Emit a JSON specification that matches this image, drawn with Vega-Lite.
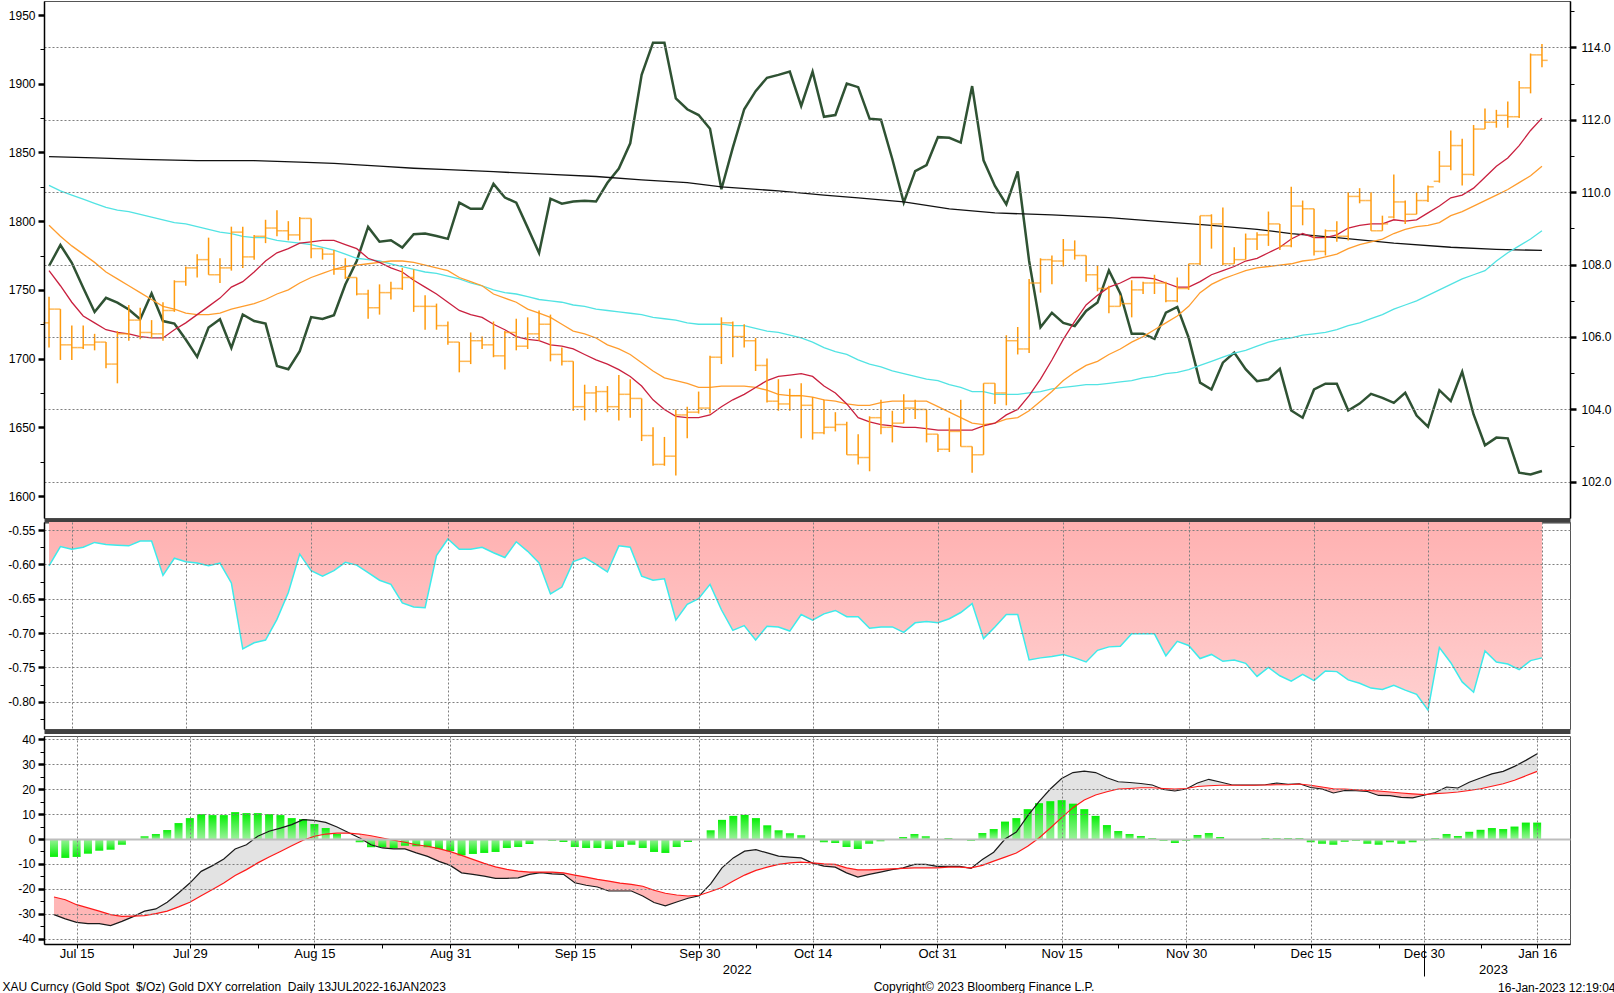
{
  "$schema": "https://vega.github.io/schema/vega-lite/v6.json",
  "padding": 0,
  "background": "white",
  "datasets": {
    "main": [
      {"i":0,"o":1726,"h":1745,"l":1708,"c":1736,"dxy":107.96,"m10":1764,"m20":1797,"m50":1826,"corr":-0.602,"macd":-30.4,"sig":-23.3,"hist":-7.2,"dir":"dn","seg":1},
      {"i":1,"o":1736,"h":1736,"l":1699,"c":1710,"dxy":108.54,"m10":1753,"m20":1789,"m50":1822,"corr":-0.574,"macd":-32.1,"sig":-24.4,"hist":-7.6,"dir":"dn","seg":1},
      {"i":2,"o":1710,"h":1724,"l":1699,"c":1708,"dxy":108.05,"m10":1741,"m20":1782,"m50":1819,"corr":-0.578,"macd":-33.5,"sig":-26.4,"hist":-7.2,"dir":"dn","seg":1},
      {"i":3,"o":1708,"h":1724,"l":1707,"c":1710,"dxy":107.36,"m10":1731,"m20":1776,"m50":1816,"corr":-0.575,"macd":-34.0,"sig":-27.7,"hist":-5.9,"dir":"dn","seg":1},
      {"i":4,"o":1710,"h":1718,"l":1706,"c":1712,"dxy":106.69,"m10":1726,"m20":1770,"m50":1813,"corr":-0.568,"macd":-34.0,"sig":-29.0,"hist":-4.7,"dir":"dn","seg":1},
      {"i":5,"o":1712,"h":1712,"l":1693,"c":1696,"dxy":107.08,"m10":1721,"m20":1763,"m50":1810,"corr":-0.571,"macd":-34.8,"sig":-30.4,"hist":-4.3,"dir":"dn","seg":1},
      {"i":6,"o":1696,"h":1720,"l":1682,"c":1718,"dxy":106.95,"m10":1719,"m20":1758,"m50":1808,"corr":-0.572,"macd":-33.1,"sig":-31.1,"hist":-2.3,"dir":"dn","seg":1},
      {"i":7,"o":1718,"h":1739,"l":1713,"c":1728,"dxy":106.76,"m10":1718,"m20":1753,"m50":1807,"corr":-0.573,"macd":-31.2,"sig":-31.0,"hist":-0.3,"dir":"dn","seg":1},
      {"i":8,"o":1728,"h":1737,"l":1714,"c":1719,"dxy":106.49,"m10":1716,"m20":1748,"m50":1805,"corr":-0.566,"macd":-29.0,"sig":-30.8,"hist":1.1,"dir":"up","seg":2},
      {"i":9,"o":1719,"h":1728,"l":1715,"c":1718,"dxy":107.20,"m10":1715,"m20":1743,"m50":1803,"corr":-0.566,"macd":-28.1,"sig":-30.0,"hist":2.0,"dir":"up","seg":2},
      {"i":10,"o":1718,"h":1741,"l":1713,"c":1735,"dxy":106.44,"m10":1715,"m20":1738,"m50":1801,"corr":-0.616,"macd":-25.4,"sig":-29.0,"hist":3.6,"dir":"up","seg":2},
      {"i":11,"o":1735,"h":1757,"l":1734,"c":1756,"dxy":106.37,"m10":1721,"m20":1736,"m50":1799,"corr":-0.591,"macd":-21.7,"sig":-27.3,"hist":6.4,"dir":"up","seg":2},
      {"i":12,"o":1756,"h":1767,"l":1753,"c":1766,"dxy":105.93,"m10":1726,"m20":1733,"m50":1798,"corr":-0.596,"macd":-17.7,"sig":-25.4,"hist":8.4,"dir":"up","seg":2},
      {"i":13,"o":1766,"h":1776,"l":1759,"c":1772,"dxy":105.45,"m10":1732,"m20":1732,"m50":1796,"corr":-0.598,"macd":-13.0,"sig":-22.8,"hist":10.0,"dir":"up","seg":2},
      {"i":14,"o":1772,"h":1788,"l":1761,"c":1761,"dxy":106.26,"m10":1738,"m20":1732,"m50":1794,"corr":-0.602,"macd":-10.7,"sig":-20.3,"hist":9.6,"dir":"up","seg":2},
      {"i":15,"o":1761,"h":1773,"l":1755,"c":1766,"dxy":106.49,"m10":1744,"m20":1733,"m50":1792,"corr":-0.598,"macd":-8.0,"sig":-17.7,"hist":9.6,"dir":"up","seg":2},
      {"i":16,"o":1766,"h":1796,"l":1764,"c":1792,"dxy":105.70,"m10":1752,"m20":1736,"m50":1791,"corr":-0.627,"macd":-4.0,"sig":-14.7,"hist":10.8,"dir":"up","seg":2},
      {"i":17,"o":1792,"h":1796,"l":1766,"c":1774,"dxy":106.62,"m10":1756,"m20":1738,"m50":1789,"corr":-0.723,"macd":-2.3,"sig":-12.3,"hist":10.4,"dir":"up","seg":2},
      {"i":18,"o":1774,"h":1790,"l":1772,"c":1789,"dxy":106.44,"m10":1763,"m20":1740,"m50":1788,"corr":-0.714,"macd":1.1,"sig":-9.6,"hist":10.4,"dir":"up","seg":2},
      {"i":19,"o":1789,"h":1801,"l":1784,"c":1795,"dxy":106.37,"m10":1771,"m20":1743,"m50":1788,"corr":-0.710,"macd":3.1,"sig":-7.2,"hist":10.0,"dir":"up","seg":2},
      {"i":20,"o":1795,"h":1808,"l":1789,"c":1793,"dxy":105.20,"m10":1777,"m20":1747,"m50":1786,"corr":-0.680,"macd":4.4,"sig":-5.0,"hist":9.6,"dir":"up","seg":2},
      {"i":21,"o":1793,"h":1800,"l":1786,"c":1790,"dxy":105.11,"m10":1780,"m20":1750,"m50":1785,"corr":-0.641,"macd":5.8,"sig":-2.7,"hist":8.4,"dir":"up","seg":2},
      {"i":22,"o":1790,"h":1803,"l":1786,"c":1802,"dxy":105.61,"m10":1784,"m20":1755,"m50":1784,"corr":-0.585,"macd":7.8,"sig":-0.5,"hist":8.0,"dir":"up","seg":2},
      {"i":23,"o":1802,"h":1802,"l":1773,"c":1780,"dxy":106.55,"m10":1785,"m20":1759,"m50":1783,"corr":-0.609,"macd":7.5,"sig":1.1,"hist":6.0,"dir":"up","seg":2},
      {"i":24,"o":1780,"h":1780,"l":1772,"c":1776,"dxy":106.50,"m10":1786,"m20":1762,"m50":1781,"corr":-0.617,"macd":6.7,"sig":2.0,"hist":4.4,"dir":"up","seg":2},
      {"i":25,"o":1776,"h":1779,"l":1761,"c":1765,"dxy":106.60,"m10":1786,"m20":1765,"m50":1779,"corr":-0.609,"macd":4.8,"sig":2.4,"hist":2.0,"dir":"up","seg":2},
      {"i":26,"o":1765,"h":1773,"l":1758,"c":1759,"dxy":107.45,"m10":1783,"m20":1767,"m50":1776,"corr":-0.597,"macd":2.6,"sig":2.4,"hist":0,"dir":"up","seg":2},
      {"i":27,"o":1759,"h":1759,"l":1746,"c":1747,"dxy":108.10,"m10":1780,"m20":1768,"m50":1773,"corr":-0.601,"macd":0.4,"sig":2.0,"hist":-1.3,"dir":"dn","seg":3},
      {"i":28,"o":1747,"h":1750,"l":1729,"c":1737,"dxy":109.04,"m10":1773,"m20":1769,"m50":1772,"corr":-0.612,"macd":-2.3,"sig":1.3,"hist":-3.3,"dir":"dn","seg":3},
      {"i":29,"o":1737,"h":1754,"l":1732,"c":1748,"dxy":108.63,"m10":1770,"m20":1770,"m50":1771,"corr":-0.623,"macd":-3.6,"sig":0.4,"hist":-3.3,"dir":"dn","seg":3},
      {"i":30,"o":1748,"h":1756,"l":1743,"c":1751,"dxy":108.67,"m10":1766,"m20":1771,"m50":1769,"corr":-0.629,"macd":-4.0,"sig":-0.5,"hist":-3.6,"dir":"dn","seg":3},
      {"i":31,"o":1751,"h":1766,"l":1750,"c":1759,"dxy":108.47,"m10":1763,"m20":1771,"m50":1767,"corr":-0.656,"macd":-4.0,"sig":-1.3,"hist":-2.7,"dir":"dn","seg":3},
      {"i":32,"o":1759,"h":1765,"l":1734,"c":1738,"dxy":108.84,"m10":1757,"m20":1770,"m50":1765,"corr":-0.662,"macd":-5.6,"sig":-2.3,"hist":-2.9,"dir":"dn","seg":3},
      {"i":33,"o":1738,"h":1746,"l":1721,"c":1738,"dxy":108.86,"m10":1752,"m20":1768,"m50":1763,"corr":-0.663,"macd":-7.0,"sig":-2.9,"hist":-3.3,"dir":"dn","seg":3},
      {"i":34,"o":1738,"h":1740,"l":1721,"c":1724,"dxy":108.79,"m10":1747,"m20":1766,"m50":1762,"corr":-0.587,"macd":-9.0,"sig":-3.9,"hist":-4.0,"dir":"dn","seg":3},
      {"i":35,"o":1724,"h":1727,"l":1710,"c":1712,"dxy":108.71,"m10":1741,"m20":1764,"m50":1760,"corr":-0.563,"macd":-10.6,"sig":-5.1,"hist":-4.9,"dir":"dn","seg":3},
      {"i":36,"o":1712,"h":1712,"l":1690,"c":1698,"dxy":109.71,"m10":1735,"m20":1759,"m50":1758,"corr":-0.578,"macd":-13.6,"sig":-6.6,"hist":-6.6,"dir":"dn","seg":3},
      {"i":37,"o":1698,"h":1719,"l":1696,"c":1713,"dxy":109.54,"m10":1732,"m20":1756,"m50":1755,"corr":-0.578,"macd":-14.2,"sig":-8.2,"hist":-6.0,"dir":"dn","seg":3},
      {"i":38,"o":1713,"h":1716,"l":1707,"c":1710,"dxy":109.54,"m10":1730,"m20":1753,"m50":1753,"corr":-0.575,"macd":-14.9,"sig":-9.8,"hist":-5.6,"dir":"dn","seg":3},
      {"i":39,"o":1710,"h":1727,"l":1701,"c":1702,"dxy":110.23,"m10":1725,"m20":1747,"m50":1750,"corr":-0.583,"macd":-15.8,"sig":-11.2,"hist":-5.2,"dir":"dn","seg":3},
      {"i":40,"o":1702,"h":1720,"l":1692,"c":1719,"dxy":109.85,"m10":1721,"m20":1744,"m50":1748,"corr":-0.590,"macd":-15.8,"sig":-12.2,"hist":-3.6,"dir":"dn","seg":3},
      {"i":41,"o":1719,"h":1729,"l":1706,"c":1709,"dxy":109.71,"m10":1716,"m20":1741,"m50":1747,"corr":-0.567,"macd":-15.6,"sig":-12.9,"hist":-3.2,"dir":"dn","seg":3},
      {"i":42,"o":1709,"h":1730,"l":1707,"c":1718,"dxy":109.02,"m10":1714,"m20":1736,"m50":1745,"corr":-0.581,"macd":-14.2,"sig":-13.3,"hist":-2.0,"dir":"dn","seg":3},
      {"i":43,"o":1718,"h":1735,"l":1713,"c":1725,"dxy":108.32,"m10":1713,"m20":1733,"m50":1743,"corr":-0.598,"macd":-13.5,"sig":-13.3,"hist":-0.3,"dir":"dn","seg":3},
      {"i":44,"o":1725,"h":1732,"l":1698,"c":1703,"dxy":109.82,"m10":1710,"m20":1730,"m50":1742,"corr":-0.643,"macd":-14.0,"sig":-13.3,"hist":-0.7,"dir":"dn","seg":3},
      {"i":45,"o":1703,"h":1708,"l":1695,"c":1698,"dxy":109.68,"m10":1709,"m20":1725,"m50":1741,"corr":-0.633,"macd":-14.2,"sig":-13.6,"hist":-1.2,"dir":"dn","seg":3},
      {"i":46,"o":1698,"h":1698,"l":1662,"c":1665,"dxy":109.74,"m10":1707,"m20":1720,"m50":1739,"corr":-0.596,"macd":-17.6,"sig":-14.5,"hist":-3.2,"dir":"dn","seg":3},
      {"i":47,"o":1665,"h":1681,"l":1655,"c":1675,"dxy":109.76,"m10":1703,"m20":1718,"m50":1738,"corr":-0.590,"macd":-18.6,"sig":-15.3,"hist":-3.6,"dir":"dn","seg":3},
      {"i":48,"o":1675,"h":1680,"l":1661,"c":1676,"dxy":109.74,"m10":1699,"m20":1715,"m50":1736,"corr":-0.600,"macd":-19.3,"sig":-16.2,"hist":-3.6,"dir":"dn","seg":3},
      {"i":49,"o":1676,"h":1680,"l":1661,"c":1665,"dxy":110.26,"m10":1696,"m20":1710,"m50":1735,"corr":-0.611,"macd":-20.9,"sig":-16.9,"hist":-4.0,"dir":"dn","seg":3},
      {"i":50,"o":1665,"h":1688,"l":1655,"c":1674,"dxy":110.65,"m10":1692,"m20":1707,"m50":1734,"corr":-0.573,"macd":-20.9,"sig":-17.7,"hist":-3.2,"dir":"dn","seg":3},
      {"i":51,"o":1674,"h":1685,"l":1657,"c":1671,"dxy":111.35,"m10":1687,"m20":1703,"m50":1733,"corr":-0.575,"macd":-20.9,"sig":-18.2,"hist":-2.3,"dir":"dn","seg":3},
      {"i":52,"o":1671,"h":1671,"l":1640,"c":1644,"dxy":113.24,"m10":1680,"m20":1697,"m50":1732,"corr":-0.617,"macd":-22.9,"sig":-19.0,"hist":-3.6,"dir":"dn","seg":3},
      {"i":53,"o":1644,"h":1650,"l":1622,"c":1623,"dxy":114.13,"m10":1670,"m20":1691,"m50":1730,"corr":-0.623,"macd":-25.5,"sig":-20.6,"hist":-5.2,"dir":"dn","seg":3},
      {"i":54,"o":1623,"h":1643,"l":1622,"c":1629,"dxy":114.13,"m10":1663,"m20":1686,"m50":1729,"corr":-0.621,"macd":-26.9,"sig":-21.8,"hist":-5.6,"dir":"dn","seg":3},
      {"i":55,"o":1629,"h":1663,"l":1615,"c":1659,"dxy":112.59,"m10":1658,"m20":1684,"m50":1728,"corr":-0.681,"macd":-25.3,"sig":-22.5,"hist":-3.2,"dir":"dn","seg":3},
      {"i":56,"o":1659,"h":1665,"l":1642,"c":1661,"dxy":112.29,"m10":1657,"m20":1682,"m50":1726,"corr":-0.658,"macd":-23.8,"sig":-22.9,"hist":-1.2,"dir":"dn","seg":3},
      {"i":57,"o":1661,"h":1676,"l":1660,"c":1664,"dxy":112.13,"m10":1657,"m20":1679,"m50":1725,"corr":-0.650,"macd":-22.8,"sig":-22.6,"hist":-0.3,"dir":"dn","seg":3},
      {"i":58,"o":1664,"h":1702,"l":1660,"c":1701,"dxy":111.75,"m10":1659,"m20":1679,"m50":1725,"corr":-0.629,"macd":-18.0,"sig":-21.1,"hist":3.5,"dir":"up","seg":4},
      {"i":59,"o":1701,"h":1730,"l":1696,"c":1726,"dxy":110.08,"m10":1665,"m20":1680,"m50":1725,"corr":-0.666,"macd":-11.6,"sig":-19.5,"hist":7.7,"dir":"up","seg":4},
      {"i":60,"o":1726,"h":1727,"l":1701,"c":1716,"dxy":111.23,"m10":1670,"m20":1680,"m50":1724,"corr":-0.696,"macd":-7.6,"sig":-16.9,"hist":9.3,"dir":"up","seg":4},
      {"i":61,"o":1716,"h":1725,"l":1708,"c":1713,"dxy":112.29,"m10":1674,"m20":1680,"m50":1724,"corr":-0.689,"macd":-4.9,"sig":-14.5,"hist":9.7,"dir":"up","seg":4},
      {"i":62,"o":1713,"h":1715,"l":1691,"c":1695,"dxy":112.79,"m10":1679,"m20":1679,"m50":1722,"corr":-0.710,"macd":-4.3,"sig":-12.6,"hist":8.4,"dir":"up","seg":4},
      {"i":63,"o":1695,"h":1700,"l":1668,"c":1669,"dxy":113.16,"m10":1684,"m20":1677,"m50":1720,"corr":-0.690,"macd":-5.6,"sig":-11.3,"hist":5.5,"dir":"up","seg":4},
      {"i":64,"o":1669,"h":1685,"l":1662,"c":1667,"dxy":113.24,"m10":1687,"m20":1674,"m50":1719,"corr":-0.691,"macd":-6.9,"sig":-10.2,"hist":3.5,"dir":"up","seg":4},
      {"i":65,"o":1667,"h":1678,"l":1662,"c":1673,"dxy":113.33,"m10":1688,"m20":1673,"m50":1717,"corr":-0.697,"macd":-7.3,"sig":-9.6,"hist":2.3,"dir":"up","seg":4},
      {"i":66,"o":1673,"h":1682,"l":1642,"c":1666,"dxy":112.38,"m10":1689,"m20":1673,"m50":1715,"corr":-0.673,"macd":-7.6,"sig":-9.3,"hist":1.5,"dir":"up","seg":4},
      {"i":67,"o":1666,"h":1672,"l":1641,"c":1646,"dxy":113.33,"m10":1687,"m20":1672,"m50":1712,"corr":-0.681,"macd":-9.7,"sig":-9.6,"hist":0,"dir":"dn","seg":5},
      {"i":68,"o":1646,"h":1670,"l":1645,"c":1650,"dxy":112.08,"m10":1680,"m20":1670,"m50":1708,"corr":-0.672,"macd":-10.9,"sig":-10.0,"hist":-1.3,"dir":"dn","seg":5},
      {"i":69,"o":1650,"h":1661,"l":1647,"c":1652,"dxy":112.13,"m10":1675,"m20":1669,"m50":1705,"corr":-0.667,"macd":-11.3,"sig":-10.2,"hist":-1.6,"dir":"dn","seg":5},
      {"i":70,"o":1652,"h":1654,"l":1630,"c":1630,"dxy":113.0,"m10":1667,"m20":1667,"m50":1703,"corr":-0.676,"macd":-13.6,"sig":-11.6,"hist":-3.2,"dir":"dn","seg":5},
      {"i":71,"o":1630,"h":1645,"l":1623,"c":1628,"dxy":112.9,"m10":1657,"m20":1666,"m50":1699,"corr":-0.676,"macd":-15.3,"sig":-12.4,"hist":-4.0,"dir":"dn","seg":5},
      {"i":72,"o":1628,"h":1658,"l":1618,"c":1657,"dxy":112.03,"m10":1654,"m20":1666,"m50":1696,"corr":-0.693,"macd":-14.2,"sig":-12.4,"hist":-1.9,"dir":"dn","seg":5},
      {"i":73,"o":1657,"h":1670,"l":1645,"c":1650,"dxy":112.0,"m10":1652,"m20":1668,"m50":1694,"corr":-0.691,"macd":-13.3,"sig":-12.2,"hist":-0.9,"dir":"dn","seg":5},
      {"i":74,"o":1650,"h":1662,"l":1639,"c":1653,"dxy":110.91,"m10":1651,"m20":1669,"m50":1691,"corr":-0.691,"macd":-12.3,"sig":-12.0,"hist":0,"dir":"dn","seg":5},
      {"i":75,"o":1653,"h":1674,"l":1653,"c":1664,"dxy":109.71,"m10":1650,"m20":1669,"m50":1689,"corr":-0.699,"macd":-11.6,"sig":-11.8,"hist":0.8,"dir":"up","seg":6},
      {"i":76,"o":1664,"h":1670,"l":1656,"c":1663,"dxy":110.58,"m10":1650,"m20":1669,"m50":1687,"corr":-0.685,"macd":-10.2,"sig":-11.6,"hist":2.0,"dir":"up","seg":6},
      {"i":77,"o":1663,"h":1663,"l":1639,"c":1645,"dxy":110.75,"m10":1649,"m20":1669,"m50":1685,"corr":-0.683,"macd":-10.2,"sig":-11.6,"hist":1.1,"dir":"up","seg":6},
      {"i":78,"o":1645,"h":1645,"l":1632,"c":1634,"dxy":111.52,"m10":1648,"m20":1665,"m50":1684,"corr":-0.685,"macd":-11.0,"sig":-11.6,"hist":0,"dir":"up","seg":6},
      {"i":79,"o":1634,"h":1657,"l":1632,"c":1647,"dxy":111.5,"m10":1648,"m20":1661,"m50":1681,"corr":-0.679,"macd":-11.0,"sig":-11.3,"hist":0.4,"dir":"up","seg":6},
      {"i":80,"o":1647,"h":1670,"l":1636,"c":1636,"dxy":111.37,"m10":1648,"m20":1657,"m50":1679,"corr":-0.670,"macd":-11.0,"sig":-11.3,"hist":0,"dir":"up","seg":6},
      {"i":81,"o":1636,"h":1636,"l":1617,"c":1630,"dxy":112.93,"m10":1648,"m20":1653,"m50":1676,"corr":-0.657,"macd":-11.8,"sig":-11.6,"hist":-0.7,"dir":"dn","seg":7},
      {"i":82,"o":1630,"h":1682,"l":1630,"c":1682,"dxy":110.88,"m10":1651,"m20":1652,"m50":1676,"corr":-0.708,"macd":-8.2,"sig":-10.6,"hist":2.4,"dir":"up","seg":8},
      {"i":83,"o":1682,"h":1682,"l":1667,"c":1675,"dxy":110.17,"m10":1653,"m20":1653,"m50":1674,"corr":-0.691,"macd":-5.3,"sig":-8.9,"hist":4.0,"dir":"up","seg":8},
      {"i":84,"o":1675,"h":1717,"l":1666,"c":1713,"dxy":109.66,"m10":1659,"m20":1656,"m50":1674,"corr":-0.673,"macd":0,"sig":-7.3,"hist":7.0,"dir":"up","seg":8},
      {"i":85,"o":1713,"h":1723,"l":1703,"c":1707,"dxy":110.57,"m10":1663,"m20":1657,"m50":1674,"corr":-0.673,"macd":2.8,"sig":-5.6,"hist":8.4,"dir":"up","seg":8},
      {"i":86,"o":1707,"h":1758,"l":1704,"c":1755,"dxy":108.1,"m10":1673,"m20":1662,"m50":1675,"corr":-0.739,"macd":9.3,"sig":-2.9,"hist":12.0,"dir":"up","seg":8},
      {"i":87,"o":1755,"h":1773,"l":1748,"c":1772,"dxy":106.27,"m10":1685,"m20":1669,"m50":1676,"corr":-0.736,"macd":15.0,"sig":0.4,"hist":14.4,"dir":"up","seg":8},
      {"i":88,"o":1772,"h":1775,"l":1754,"c":1771,"dxy":106.67,"m10":1699,"m20":1676,"m50":1678,"corr":-0.734,"macd":20.1,"sig":4.4,"hist":15.2,"dir":"up","seg":8},
      {"i":89,"o":1771,"h":1787,"l":1767,"c":1779,"dxy":106.39,"m10":1714,"m20":1684,"m50":1679,"corr":-0.731,"macd":24.3,"sig":8.6,"hist":15.6,"dir":"up","seg":8},
      {"i":90,"o":1779,"h":1786,"l":1772,"c":1775,"dxy":106.30,"m10":1727,"m20":1690,"m50":1680,"corr":-0.736,"macd":26.7,"sig":12.6,"hist":14.2,"dir":"up","seg":8},
      {"i":91,"o":1775,"h":1775,"l":1756,"c":1761,"dxy":106.72,"m10":1739,"m20":1695,"m50":1681,"corr":-0.742,"macd":27.3,"sig":15.7,"hist":12.0,"dir":"up","seg":8},
      {"i":92,"o":1761,"h":1768,"l":1749,"c":1751,"dxy":106.95,"m10":1746,"m20":1698,"m50":1681,"corr":-0.725,"macd":26.7,"sig":17.7,"hist":9.3,"dir":"up","seg":8},
      {"i":93,"o":1751,"h":1753,"l":1733,"c":1738,"dxy":107.84,"m10":1752,"m20":1703,"m50":1682,"corr":-0.720,"macd":24.6,"sig":19.0,"hist":5.6,"dir":"up","seg":8},
      {"i":94,"o":1738,"h":1746,"l":1738,"c":1740,"dxy":107.20,"m10":1755,"m20":1707,"m50":1683,"corr":-0.719,"macd":23.0,"sig":20.1,"hist":3.2,"dir":"up","seg":8},
      {"i":95,"o":1740,"h":1757,"l":1730,"c":1750,"dxy":106.09,"m10":1759,"m20":1712,"m50":1684,"corr":-0.701,"macd":22.7,"sig":20.3,"hist":2.0,"dir":"up","seg":8},
      {"i":96,"o":1750,"h":1756,"l":1747,"c":1755,"dxy":106.09,"m10":1759,"m20":1716,"m50":1686,"corr":-0.701,"macd":22.3,"sig":20.6,"hist":1.2,"dir":"up","seg":8},
      {"i":97,"o":1755,"h":1761,"l":1747,"c":1755,"dxy":105.95,"m10":1758,"m20":1721,"m50":1687,"corr":-0.701,"macd":21.7,"sig":20.6,"hist":0.4,"dir":"up","seg":8},
      {"i":98,"o":1755,"h":1756,"l":1741,"c":1742,"dxy":106.67,"m10":1755,"m20":1726,"m50":1689,"corr":-0.733,"macd":19.9,"sig":20.3,"hist":-0.7,"dir":"dn","seg":9},
      {"i":99,"o":1742,"h":1759,"l":1741,"c":1751,"dxy":106.83,"m10":1752,"m20":1731,"m50":1690,"corr":-0.712,"macd":19.3,"sig":20.1,"hist":-1.6,"dir":"dn","seg":9},
      {"i":100,"o":1751,"h":1769,"l":1750,"c":1769,"dxy":105.98,"m10":1752,"m20":1738,"m50":1692,"corr":-0.718,"macd":20.1,"sig":20.3,"hist":-0.7,"dir":"dn","seg":9},
      {"i":101,"o":1769,"h":1804,"l":1768,"c":1804,"dxy":104.74,"m10":1756,"m20":1748,"m50":1695,"corr":-0.737,"macd":22.5,"sig":21.1,"hist":1.6,"dir":"up","seg":10},
      {"i":102,"o":1804,"h":1805,"l":1780,"c":1798,"dxy":104.55,"m10":1761,"m20":1754,"m50":1698,"corr":-0.731,"macd":24.0,"sig":21.4,"hist":2.4,"dir":"up","seg":10},
      {"i":103,"o":1798,"h":1810,"l":1768,"c":1769,"dxy":105.29,"m10":1764,"m20":1758,"m50":1701,"corr":-0.741,"macd":22.9,"sig":21.6,"hist":0.8,"dir":"up","seg":10},
      {"i":104,"o":1769,"h":1781,"l":1769,"c":1772,"dxy":105.57,"m10":1767,"m20":1761,"m50":1704,"corr":-0.739,"macd":21.8,"sig":21.6,"hist":0,"dir":"up","seg":10},
      {"i":105,"o":1772,"h":1791,"l":1772,"c":1787,"dxy":105.11,"m10":1771,"m20":1764,"m50":1706,"corr":-0.744,"macd":21.7,"sig":21.6,"hist":0,"dir":"up","seg":10},
      {"i":106,"o":1787,"h":1792,"l":1779,"c":1790,"dxy":104.78,"m10":1773,"m20":1766,"m50":1709,"corr":-0.763,"macd":21.7,"sig":21.6,"hist":0,"dir":"up","seg":10},
      {"i":107,"o":1790,"h":1807,"l":1782,"c":1798,"dxy":104.83,"m10":1777,"m20":1767,"m50":1712,"corr":-0.750,"macd":21.8,"sig":21.7,"hist":0.4,"dir":"up","seg":10},
      {"i":108,"o":1798,"h":1798,"l":1779,"c":1782,"dxy":105.12,"m10":1781,"m20":1768,"m50":1714,"corr":-0.762,"macd":22.5,"sig":21.8,"hist":0.3,"dir":"up","seg":10},
      {"i":109,"o":1782,"h":1825,"l":1781,"c":1811,"dxy":103.97,"m10":1787,"m20":1769,"m50":1715,"corr":-0.770,"macd":22.0,"sig":21.8,"hist":0.4,"dir":"up","seg":10},
      {"i":110,"o":1811,"h":1815,"l":1797,"c":1809,"dxy":103.77,"m10":1791,"m20":1771,"m50":1717,"corr":-0.760,"macd":22.2,"sig":22.1,"hist":0.4,"dir":"up","seg":10},
      {"i":111,"o":1809,"h":1809,"l":1775,"c":1778,"dxy":104.55,"m10":1788,"m20":1772,"m50":1718,"corr":-0.769,"macd":20.7,"sig":21.6,"hist":-1.3,"dir":"dn","seg":11},
      {"i":112,"o":1778,"h":1794,"l":1775,"c":1793,"dxy":104.71,"m10":1788,"m20":1774,"m50":1719,"corr":-0.755,"macd":20.1,"sig":20.9,"hist":-1.9,"dir":"dn","seg":11},
      {"i":113,"o":1793,"h":1800,"l":1785,"c":1789,"dxy":104.71,"m10":1790,"m20":1776,"m50":1721,"corr":-0.756,"macd":18.5,"sig":20.2,"hist":-2.3,"dir":"dn","seg":11},
      {"i":114,"o":1789,"h":1821,"l":1786,"c":1818,"dxy":103.97,"m10":1795,"m20":1780,"m50":1724,"corr":-0.768,"macd":19.5,"sig":20.1,"hist":-1.1,"dir":"dn","seg":11},
      {"i":115,"o":1818,"h":1824,"l":1813,"c":1815,"dxy":104.16,"m10":1797,"m20":1783,"m50":1726,"corr":-0.773,"macd":19.4,"sig":19.8,"hist":-0.7,"dir":"dn","seg":11},
      {"i":116,"o":1815,"h":1821,"l":1793,"c":1793,"dxy":104.43,"m10":1798,"m20":1785,"m50":1729,"corr":-0.780,"macd":19.1,"sig":19.5,"hist":-1.9,"dir":"dn","seg":11},
      {"i":117,"o":1793,"h":1804,"l":1793,"c":1798,"dxy":104.32,"m10":1798,"m20":1787,"m50":1732,"corr":-0.782,"macd":17.5,"sig":19.3,"hist":-2.3,"dir":"dn","seg":11},
      {"i":118,"o":1803,"h":1834,"l":1802,"c":1814,"dxy":104.18,"m10":1801,"m20":1791,"m50":1736,"corr":-0.776,"macd":17.4,"sig":18.9,"hist":-1.3,"dir":"dn","seg":11},
      {"i":119,"o":1814,"h":1815,"l":1798,"c":1805,"dxy":104.46,"m10":1800,"m20":1794,"m50":1739,"corr":-0.783,"macd":16.7,"sig":18.5,"hist":-1.9,"dir":"dn","seg":11},
      {"i":120,"o":1805,"h":1821,"l":1805,"c":1815,"dxy":103.83,"m10":1801,"m20":1796,"m50":1742,"corr":-0.789,"macd":16.5,"sig":18.1,"hist":-1.3,"dir":"dn","seg":11},
      {"i":121,"o":1815,"h":1826,"l":1814,"c":1825,"dxy":103.52,"m10":1806,"m20":1797,"m50":1746,"corr":-0.812,"macd":17.6,"sig":17.8,"hist":-0.5,"dir":"dn","seg":11},
      {"i":122,"o":1829,"h":1851,"l":1828,"c":1840,"dxy":104.53,"m10":1811,"m20":1799,"m50":1750,"corr":-0.721,"macd":18.7,"sig":18.2,"hist":0.4,"dir":"up","seg":12},
      {"i":123,"o":1840,"h":1866,"l":1837,"c":1855,"dxy":104.23,"m10":1817,"m20":1804,"m50":1754,"corr":-0.743,"macd":20.9,"sig":18.5,"hist":2.0,"dir":"up","seg":12},
      {"i":124,"o":1855,"h":1860,"l":1826,"c":1834,"dxy":105.04,"m10":1819,"m20":1807,"m50":1758,"corr":-0.771,"macd":20.5,"sig":18.9,"hist":1.2,"dir":"up","seg":12},
      {"i":125,"o":1834,"h":1870,"l":1833,"c":1867,"dxy":103.86,"m10":1824,"m20":1811,"m50":1761,"corr":-0.786,"macd":22.8,"sig":19.5,"hist":2.9,"dir":"up","seg":12},
      {"i":126,"o":1867,"h":1882,"l":1867,"c":1872,"dxy":103.01,"m10":1832,"m20":1815,"m50":1764,"corr":-0.726,"macd":24.5,"sig":20.2,"hist":3.7,"dir":"up","seg":12},
      {"i":127,"o":1872,"h":1881,"l":1868,"c":1877,"dxy":103.22,"m10":1840,"m20":1819,"m50":1771,"corr":-0.742,"macd":26.2,"sig":21.2,"hist":4.4,"dir":"up","seg":12},
      {"i":128,"o":1877,"h":1887,"l":1868,"c":1876,"dxy":103.20,"m10":1846,"m20":1823,"m50":1777,"corr":-0.745,"macd":27.2,"sig":22.2,"hist":4.0,"dir":"up","seg":12},
      {"i":129,"o":1876,"h":1902,"l":1875,"c":1897,"dxy":102.25,"m10":1855,"m20":1828,"m50":1782,"corr":-0.753,"macd":29.2,"sig":23.6,"hist":5.0,"dir":"up","seg":12},
      {"i":130,"o":1897,"h":1922,"l":1893,"c":1921,"dxy":102.20,"m10":1866,"m20":1833,"m50":1787,"corr":-0.740,"macd":31.6,"sig":25.4,"hist":6.6,"dir":"up","seg":12},
      {"i":131,"o":1921,"h":1929,"l":1912,"c":1917,"dxy":102.30,"m10":1875,"m20":1840,"m50":1793,"corr":-0.736,"macd":34.3,"sig":27.2,"hist":6.6,"dir":"up","seg":12}
    ],
    "ma200": [
      {"i":0,"v":1847},{"i":4,"v":1846},{"i":8,"v":1845},{"i":13,"v":1844},{"i":18,"v":1844},
      {"i":22,"v":1843},{"i":25,"v":1842},{"i":29,"v":1840},{"i":32,"v":1838.5},{"i":35,"v":1837.5},
      {"i":39,"v":1836},{"i":44,"v":1834},{"i":48,"v":1832.5},{"i":52,"v":1830},{"i":56,"v":1828},
      {"i":59,"v":1825},{"i":64,"v":1822},{"i":68,"v":1819},{"i":71,"v":1817},{"i":75,"v":1814},
      {"i":79,"v":1809},{"i":83,"v":1806},{"i":88,"v":1804.5},{"i":93,"v":1802.5},{"i":97,"v":1800},
      {"i":102,"v":1797},{"i":106,"v":1794},{"i":109,"v":1791},{"i":113,"v":1788},{"i":118,"v":1784},
      {"i":123,"v":1781},{"i":127,"v":1779.5},{"i":131,"v":1778.7}
    ]
  },
  "title": {
    "text": "XAU Curncy (Gold Spot \u00a0$/Oz) Gold DXY correlation \u00a0Daily 13JUL2022-16JAN2023",
    "orient": "bottom", "anchor": "start", "dx": 2, "offset": -12
  },
  "vconcat": [
    {
      "title": {"text": "16-Jan-2023 12:19:04", "orient": "bottom", "anchor": "end", "offset": -10},
      "vconcat": [
        {
          "title": {"text": "Copyright\u00a9 2023 Bloomberg Finance L.P.", "orient": "bottom", "anchor": "middle", "dx": 176, "offset": 5},
          "spacing": 0,
          "vconcat": [
            {
              "width": 1526,
              "height": 517,
              "data": {"name": "main"},
              "encoding": {
                "x": {
                  "field": "i", "type": "quantitative",
                  "scale": {"domain": [-0.44, 133.46], "nice": false, "zero": false},
                  "axis": {
                    "orient": "bottom", "title": null, "labels": false, "ticks": false, "grid": false,
                    "domain": true, "domainColor": "#404040", "domainWidth": 5, "offset": 2.5
                  }
                }
              },
              "layer": [
                {
                  "mark": {"type": "line", "color": "#2f5233", "strokeWidth": 2.5},
                  "encoding": {
                    "y": {
                      "field": "dxy", "type": "quantitative",
                      "scale": {"domain": [101.0, 115.28], "nice": false, "zero": false},
                      "axis": {
                        "orient": "right", "title": null, "zindex": 1, "minExtent": 45, "tickCount": 100,
                        "values": [102, 103, 104, 105, 106, 107, 108, 109, 110, 111, 112, 113, 114, 115],
                        "labelExpr": "datum.value % 2 == 0 ? format(datum.value, '.1f') : ''",
                        "labelFontSize": 12, "labelPadding": 5, "domainWidth": 1.5,
                        "tickSize": {"condition": {"test": "datum.value % 2 == 0", "value": 6}, "value": 4},
                        "tickWidth": {"condition": {"test": "datum.value % 2 == 0", "value": 2.5}, "value": 1},
                        "grid": true,
                        "gridOpacity": {"condition": {"test": "datum.value % 2 == 0", "value": 1}, "value": 0}
                      }
                    }
                  }
                },
                {
                  "layer": [
                    {
                      "data": {"name": "ma200"},
                      "mark": {"type": "line", "color": "#111111", "strokeWidth": 1.3},
                      "encoding": {
                        "y": {
                          "field": "v", "type": "quantitative",
                          "scale": {"domain": [1584, 1960.2], "nice": false, "zero": false},
                          "axis": {
                            "orient": "left", "title": null, "zindex": 1, "grid": false, "minExtent": 43, "tickCount": 100,
                            "values": [1600, 1625, 1650, 1675, 1700, 1725, 1750, 1775, 1800, 1825, 1850, 1875, 1900, 1925, 1950],
                            "labelExpr": "datum.value % 50 == 0 ? toString(datum.value) : ''",
                            "labelFontSize": 12, "labelPadding": 3, "domainWidth": 1.5,
                            "tickSize": {"condition": {"test": "datum.value % 50 == 0", "value": 6}, "value": 4},
                            "tickWidth": {"condition": {"test": "datum.value % 50 == 0", "value": 2.5}, "value": 1}
                          }
                        }
                      }
                    },
                    {
                      "mark": {"type": "line", "color": "#52e3e3", "strokeWidth": 1.3},
                      "encoding": {"y": {"field": "m50", "type": "quantitative", "title": null}}
                    },
                    {
                      "mark": {"type": "line", "color": "#ff9d2e", "strokeWidth": 1.3},
                      "encoding": {"y": {"field": "m20", "type": "quantitative", "title": null}}
                    },
                    {
                      "mark": {"type": "line", "color": "#c9203f", "strokeWidth": 1.3},
                      "encoding": {"y": {"field": "m10", "type": "quantitative", "title": null}}
                    },
                    {
                      "mark": {"type": "rule", "color": "#ff9b0f", "strokeWidth": 1.5},
                      "encoding": {
                        "y": {"field": "l", "type": "quantitative", "title": null},
                        "y2": {"field": "h"}
                      }
                    },
                    {
                      "mark": {"type": "tick", "orient": "horizontal", "color": "#ff9b0f", "size": 5.7, "thickness": 1.5, "xOffset": -2.85},
                      "encoding": {"y": {"field": "o", "type": "quantitative", "title": null}}
                    },
                    {
                      "mark": {"type": "tick", "orient": "horizontal", "color": "#ff9b0f", "size": 5.7, "thickness": 1.5, "xOffset": 2.85},
                      "encoding": {"y": {"field": "c", "type": "quantitative", "title": null}}
                    }
                  ]
                }
              ],
              "resolve": {"scale": {"y": "independent"}}
            },
            {
              "width": 1526,
              "height": 207,
              "data": {"name": "main"},
              "encoding": {
                "x": {
                  "field": "i", "type": "quantitative",
                  "scale": {"domain": [-0.44, 133.46], "nice": false, "zero": false},
                  "axis": {
                    "orient": "bottom", "title": null, "zindex": 1, "labels": false, "ticks": false, "grid": true,
                    "domain": true, "domainColor": "#404040", "domainWidth": 4.5, "offset": 2.25, "tickCount": 100,
                    "values": [2, 12, 23, 35, 46, 57, 67, 78, 89, 100, 111, 121, 131]
                  }
                }
              },
              "layer": [
                {
                  "mark": {
                    "type": "area",
                    "color": {"gradient": "linear", "x1": 0, "y1": 0, "x2": 0, "y2": 1,
                      "stops": [{"offset": 0, "color": "#ffb1b1"}, {"offset": 1, "color": "#ffd0d0"}]}
                  },
                  "encoding": {
                    "y": {
                      "field": "corr", "type": "quantitative",
                      "scale": {"domain": [-0.8395, -0.5383], "nice": false, "zero": false},
                      "axis": {
                        "orient": "left", "title": null, "zindex": 1, "grid": true, "minExtent": 43, "tickCount": 100,
                        "values": [-0.825, -0.8, -0.775, -0.75, -0.725, -0.7, -0.675, -0.65, -0.625, -0.6, -0.575, -0.55],
                        "labelExpr": "round(datum.value * 1000) % 50 == 0 ? replace(format(datum.value, '.2f'), '\u2212', '-') : ''",
                        "labelFontSize": 12, "labelPadding": 3, "domainWidth": 1.5,
                        "gridOpacity": {"condition": {"test": "round(datum.value * 1000) % 50 == 0", "value": 1}, "value": 0},
                        "tickSize": {"condition": {"test": "round(datum.value * 1000) % 50 == 0", "value": 6}, "value": 4},
                        "tickWidth": {"condition": {"test": "round(datum.value * 1000) % 50 == 0", "value": 2.5}, "value": 1}
                      }
                    },
                    "y2": {"datum": -0.5383}
                  }
                },
                {
                  "mark": {"type": "line", "color": "#3debeb", "strokeWidth": 1.5},
                  "encoding": {"y": {"field": "corr", "type": "quantitative", "title": null}}
                }
              ]
            },
            {
              "width": 1526,
              "height": 208,
              "data": {"name": "main"},
              "encoding": {
                "x": {
                  "field": "i", "type": "quantitative",
                  "scale": {"domain": [-0.44, 133.46], "nice": false, "zero": false},
                  "axis": {
                    "title": null, "zindex": 1, "grid": true, "domainWidth": 1.5, "tickCount": 100,
                    "values": [2, 7, 12, 18, 23, 29, 35, 41, 46, 51, 57, 60.3, 62, 67, 73, 78, 84, 89, 94, 100, 106, 111, 117, 121, 126, 127.1, 131],
                    "labelExpr": "datum.value == 60.3 ? ['', '2022'] : datum.value == 127.1 ? ['', '2023'] : indexof([2,12,23,35,46,57,67,78,89,100,111,121,131], datum.value) >= 0 ? ['Jul 15','Jul 29','Aug 15','Aug 31','Sep 15','Sep 30','Oct 14','Oct 31','Nov 15','Nov 30','Dec 15','Dec 30','Jan 16'][indexof([2,12,23,35,46,57,67,78,89,100,111,121,131], datum.value)] : ''",
                    "labelFontSize": 13, "labelLineHeight": 16,
                    "labelPadding": {"condition": {"test": "datum.value == 121", "value": -29}, "value": -1},
                    "labelFlush": false, "labelBound": false,
                    "tickSize": {"condition": {"test": "datum.value == 121", "value": 32}, "value": 4},
                    "tickOpacity": {"condition": {"test": "datum.value == 60.3 || datum.value == 127.1", "value": 0}, "value": 1},
                    "gridOpacity": {"condition": {"test": "indexof([2,12,23,35,46,57,67,78,89,100,111,121,131], datum.value) >= 0", "value": 1}, "value": 0}
                  }
                }
              },
              "layer": [
                {
                  "mark": {"type": "area"},
                  "encoding": {
                    "y": {
                      "field": "macd", "type": "quantitative", "stack": null,
                      "scale": {"domain": [-42.2, 41.4], "nice": false, "zero": false},
                      "axis": {
                        "orient": "left", "title": null, "zindex": 1, "grid": true, "minExtent": 43, "tickCount": 100,
                        "values": [-40, -35, -30, -25, -20, -15, -10, -5, 0, 5, 10, 15, 20, 25, 30, 35, 40],
                        "labelExpr": "datum.value % 10 == 0 ? toString(datum.value) : ''",
                        "labelFontSize": 12, "labelPadding": 3, "domainWidth": 1.5,
                        "gridOpacity": {"condition": {"test": "datum.value % 10 == 0", "value": 1}, "value": 0},
                        "gridColor": {"condition": {"test": "datum.value == 0", "value": "#bdbdbd"}, "value": "#7f7f7f"},
                        "gridWidth": {"condition": {"test": "datum.value == 0", "value": 2}, "value": 1},
                        "gridDash": {"condition": {"test": "datum.value == 0", "value": []}, "value": [2, 2]},
                        "tickSize": {"condition": {"test": "datum.value % 10 == 0", "value": 6}, "value": 4},
                        "tickWidth": {"condition": {"test": "datum.value % 10 == 0", "value": 2.5}, "value": 1}
                      }
                    },
                    "y2": {"field": "sig"},
                    "color": {"field": "dir", "type": "nominal", "scale": {"domain": ["up", "dn"], "range": ["#e3e3e3", "#ffb6b6"]}, "legend": null},
                    "detail": {"field": "seg", "type": "nominal"}
                  }
                },
                {
                  "transform": [{"filter": "datum.hist > 0"}],
                  "mark": {
                    "type": "bar", "orient": "vertical", "size": 8,
                    "color": {"gradient": "linear", "x1": 0, "y1": 0, "x2": 0, "y2": 1,
                      "stops": [{"offset": 0, "color": "#06f006"}, {"offset": 1, "color": "#9af29a"}]}
                  },
                  "encoding": {
                    "y": {"field": "hist", "type": "quantitative", "title": null},
                    "y2": {"datum": 0}
                  }
                },
                {
                  "transform": [{"filter": "datum.hist < 0"}],
                  "mark": {
                    "type": "bar", "orient": "vertical", "size": 8,
                    "color": {"gradient": "linear", "x1": 0, "y1": 0, "x2": 0, "y2": 1,
                      "stops": [{"offset": 0, "color": "#9af29a"}, {"offset": 1, "color": "#06f006"}]}
                  },
                  "encoding": {
                    "y": {"field": "hist", "type": "quantitative", "title": null},
                    "y2": {"datum": 0}
                  }
                },
                {
                  "mark": {"type": "line", "color": "#1a1a1a", "strokeWidth": 1.2},
                  "encoding": {"y": {"field": "macd", "type": "quantitative", "title": null}}
                },
                {
                  "mark": {"type": "line", "color": "#ff1a1a", "strokeWidth": 1.2},
                  "encoding": {"y": {"field": "sig", "type": "quantitative", "title": null}}
                }
              ]
            }
          ]
        }
      ]
    }
  ],
  "config": {
    "font": "Liberation Sans",
    "view": {"stroke": "#555555", "strokeWidth": 1},
    "axis": {
      "labelFont": "Liberation Sans", "labelColor": "#000000",
      "domainColor": "#000000", "tickColor": "#000000",
      "gridColor": "#7f7f7f", "gridDash": [2, 2], "gridWidth": 1,
      "labelOverlap": false
    },
    "title": {"font": "Liberation Sans", "fontSize": 12, "fontWeight": "normal", "color": "#000000"}
  }
}
